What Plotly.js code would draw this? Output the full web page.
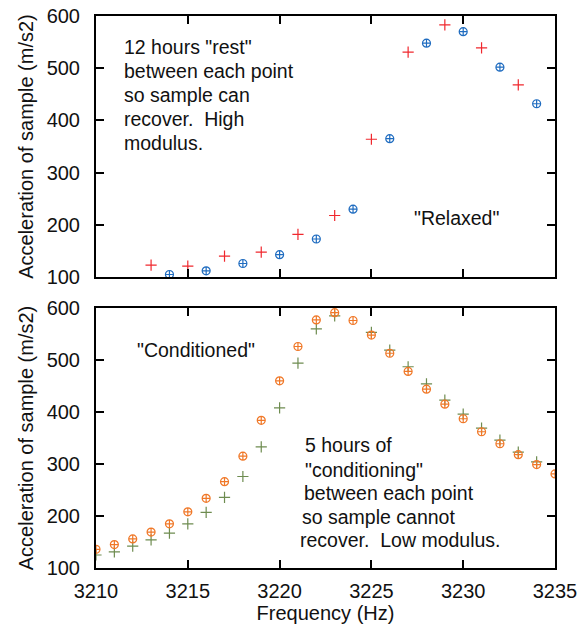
<!DOCTYPE html>
<html>
<head>
<meta charset="utf-8">
<script src="https://cdn.plot.ly/plotly-3.0.1.min.js"></script>
<style>html,body{margin:0;padding:0;background:#fff;}#chart{width:583px;height:630px;}</style>
</head>
<body>
<div id="chart"></div>
<script>
// Top panel ("Relaxed")
const relaxedRedFreq = [3213, 3215, 3217, 3219, 3221, 3223, 3225, 3227, 3229, 3231, 3233];
const relaxedRedAcc  = [123, 121, 140, 148, 182, 218, 364, 531, 583, 539, 468];
const relaxedBlueFreq = [3214, 3216, 3218, 3220, 3222, 3224, 3226, 3228, 3230, 3232, 3234];
const relaxedBlueAcc  = [105, 112, 126, 143, 173, 230, 365, 548, 570, 502, 432];

// Bottom panel ("Conditioned")
const condOrangeFreq = [3210, 3211, 3212, 3213, 3214, 3215, 3216, 3217, 3218, 3219, 3220, 3221, 3222, 3223, 3224, 3225, 3226, 3227, 3228, 3229, 3230, 3231, 3232, 3233, 3234, 3235];
const condOrangeAcc  = [136, 145, 156, 169, 185, 208, 234, 266, 315, 384, 460, 526, 577, 591, 576, 548, 513, 478, 444, 415, 387, 362, 339, 318, 299, 281];
const condGreenFreq = [3210, 3211, 3212, 3213, 3214, 3215, 3216, 3217, 3218, 3219, 3220, 3221, 3222, 3223, 3225, 3226, 3227, 3228, 3229, 3230, 3231, 3232, 3233, 3234];
const condGreenAcc  = [125, 131, 142, 154, 167, 185, 207, 236, 276, 333, 408, 494, 560, 585, 553, 519, 487, 454, 423, 396, 369, 346, 323, 304];

const xTicks = [3210, 3215, 3220, 3225, 3230, 3235];
const yTicks = [100, 200, 300, 400, 500, 600];

// Annotation text lines
const relaxedNoteLines = ['12 hours "rest"', 'between each point', 'so sample can', 'recover.&nbsp; High', 'modulus.'];
const condNoteLines = ['5 hours of', '"conditioning"', 'between each point', 'so sample cannot', 'recover.&nbsp; Low modulus.'];

const FONT = 'Liberation Sans, Arial, sans-serif';
const TXT = {family: FONT, size: 19.5, color: '#111'};

const plusMarker = (color) => ({symbol: 'cross-thin-open', size: 8, color: color, line: {color: color, width: 1.2}});
const circMarker = (color) => ({symbol: 'circle-cross-open', size: 8, color: color, line: {color: color, width: 1.2}});

const traces = [
  {x: relaxedRedFreq, y: relaxedRedAcc, xaxis: 'x2', yaxis: 'y2', mode: 'markers', type: 'scatter', marker: plusMarker('#f0282e')},
  {x: relaxedBlueFreq, y: relaxedBlueAcc, xaxis: 'x2', yaxis: 'y2', mode: 'markers', type: 'scatter', marker: circMarker('#1f6cc0')},
  {x: condGreenFreq, y: condGreenAcc, xaxis: 'x', yaxis: 'y', mode: 'markers', type: 'scatter', marker: plusMarker('#6e8c50')},
  {x: condOrangeFreq, y: condOrangeAcc, xaxis: 'x', yaxis: 'y', mode: 'markers', type: 'scatter', marker: circMarker('#f07828')}
];

const axCommon = {
  showgrid: false, zeroline: false, showline: true, linecolor: '#000', linewidth: 2,
  mirror: 'allticks', ticks: 'inside', ticklen: 8, tickwidth: 2, tickcolor: '#000',
  tickfont: {family: FONT, size: 20, color: '#111'}
};

const yTitle = {text: 'Acceleration of sample (m/s2)', font: {family: FONT, size: 20, color: '#111'}, standoff: 8};

const relaxedNotePos = [[3211.42, 541], [3211.42, 495], [3211.42, 449], [3211.42, 403], [3211.42, 357]];
const condNotePos = [[3221.27, 336], [3221.27, 289], [3221.22, 244], [3221.11, 198], [3221.0, 154]];

const annotations = [];
relaxedNoteLines.forEach((t, i) => annotations.push({xref: 'x2', yref: 'y2', x: relaxedNotePos[i][0], y: relaxedNotePos[i][1],
  xanchor: 'left', yanchor: 'middle', align: 'left', showarrow: false, text: t, font: TXT}));
condNoteLines.forEach((t, i) => annotations.push({xref: 'x', yref: 'y', x: condNotePos[i][0], y: condNotePos[i][1],
  xanchor: 'left', yanchor: 'middle', align: 'left', showarrow: false, text: t, font: TXT}));
annotations.push({xref: 'x2', yref: 'y2', x: 3229.66, y: 213, xanchor: 'center', yanchor: 'middle', showarrow: false, text: '"Relaxed"', font: TXT});
annotations.push({xref: 'x', yref: 'y', x: 3215.47, y: 519, xanchor: 'center', yanchor: 'middle', showarrow: false, text: '"Conditioned"', font: TXT});

const layout = {
  width: 583, height: 630,
  margin: {l: 96, r: 28, t: 16, b: 62},
  paper_bgcolor: '#fff', plot_bgcolor: '#fff',
  showlegend: false,
  font: {family: FONT, color: '#111'},
  xaxis: Object.assign({}, axCommon, {range: [3210, 3235], tickvals: xTicks, ticktext: xTicks.map(String), anchor: 'y', ticklabelstandoff: 4,
    title: {text: 'Frequency (Hz)', font: {family: FONT, size: 20, color: '#111'}, standoff: 5}}),
  yaxis: Object.assign({}, axCommon, {range: [100, 600], tickvals: yTicks, ticktext: yTicks.map(String), domain: [0, 0.471], anchor: 'x', ticklabelstandoff: 10, title: yTitle}),
  xaxis2: Object.assign({}, axCommon, {range: [3210, 3235], tickvals: xTicks, showticklabels: false, anchor: 'y2', matches: 'x'}),
  yaxis2: Object.assign({}, axCommon, {range: [100, 600], tickvals: yTicks, ticktext: yTicks.map(String), domain: [0.527, 1], anchor: 'x2', ticklabelstandoff: 10, title: yTitle}),
  annotations: annotations
};

Plotly.newPlot('chart', traces, layout, {displayModeBar: false, staticPlot: true});
</script>
</body>
</html>
